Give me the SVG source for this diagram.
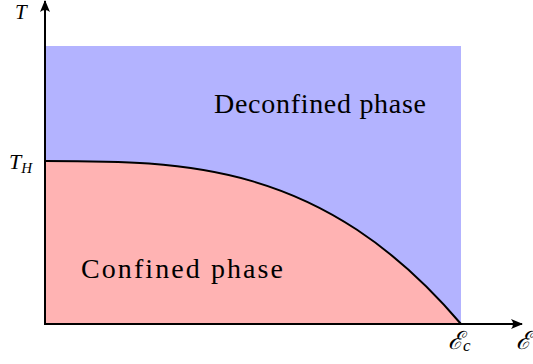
<svg xmlns="http://www.w3.org/2000/svg" width="533" height="364" viewBox="0 0 533 364">
<style>
.lbl{fill:#000}
.ax{stroke:#000;stroke-width:2;fill:none}
</style>
<defs>
<marker id="ah" viewBox="0 0 12 10" refX="11" refY="5" markerWidth="12" markerHeight="10" markerUnits="userSpaceOnUse" orient="auto">
<path d="M0,0 Q4,5 0,10 L12,5 Z" fill="#000"/>
</marker>
</defs>
<g id="deconfined">
<rect x="45" y="46" width="416" height="278" fill="#B3B3FF"/>
<text class="lbl" x="214" y="113" font-size="28" textLength="212" font-family="'Liberation Serif', serif">Deconfined phase</text>
</g>
<g id="confined">
<path d="M45,161 C183.67,161 322.33,161 461,324 L45,324 Z" fill="#FFB3B3"/>
<text class="lbl" x="81" y="278" font-size="28" textLength="202" font-family="'Liberation Serif', serif">Confined phase</text>
</g>
<g id="connectors">
<path class="ax" d="M45,161 C183.67,161 322.33,161 461,324" stroke-width="1.8"/>
<line class="ax" x1="45" y1="325" x2="45" y2="1" marker-end="url(#ah)"/>
<line class="ax" x1="44" y1="324" x2="522" y2="324" marker-end="url(#ah)"/>
</g>
<g id="labels">
<text class="lbl" x="15" y="19" font-size="21" font-style="italic" font-family="'Liberation Serif', serif">T</text>
<text class="lbl" x="9" y="169" font-size="22" font-style="italic" font-family="'Liberation Serif', serif">T<tspan font-size="15" dy="4">H</tspan></text>
<text class="lbl" x="448" y="349" font-size="25" font-style="italic" font-family="'DejaVu Serif', serif">ℰ<tspan font-size="17" dy="2" font-family="'Liberation Serif', serif">c</tspan></text>
<text class="lbl" x="516" y="349" font-size="25" font-style="italic" font-family="'DejaVu Serif', serif">ℰ</text>
</g>
</svg>
